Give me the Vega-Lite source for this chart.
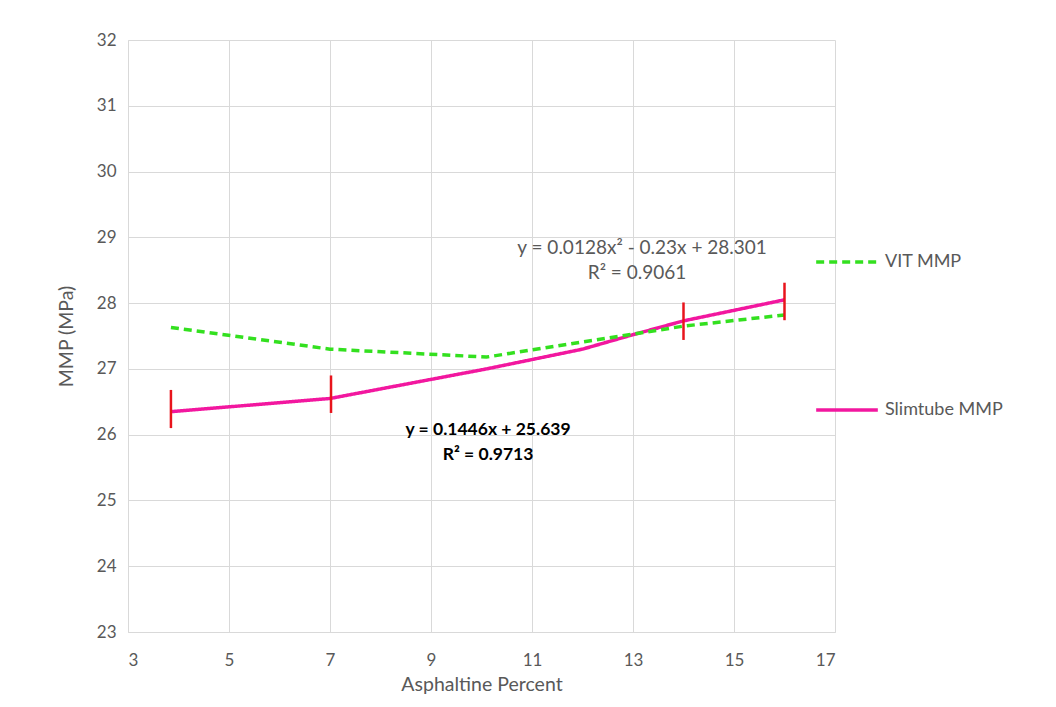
{
  "$schema": "https://vega.github.io/schema/vega-lite/v6.json",
  "width": 707,
  "height": 592,
  "autosize": {"type": "none"},
  "padding": {"left": 128, "top": 40, "right": 221, "bottom": 75},
  "background": "white",
  "config": {
    "font": "Lato",
    "view": {"stroke": null},
    "axis": {
      "gridColor": "#d9d9d9",
      "gridWidth": 1,
      "domainColor": "#d9d9d9",
      "ticks": false,
      "labelColor": "#595959",
      "labelFontSize": 17,
      "titleColor": "#595959",
      "titleFontSize": 19.5,
      "titleFontWeight": "normal"
    }
  },
  "datasets": {
    "lines": [
      {"series": "Slimtube MMP", "asph": 3.85, "mmp": 26.35},
      {"series": "Slimtube MMP", "asph": 7.0, "mmp": 26.55},
      {"series": "Slimtube MMP", "asph": 10.1, "mmp": 27.0},
      {"series": "Slimtube MMP", "asph": 12.0, "mmp": 27.3},
      {"series": "Slimtube MMP", "asph": 13.0, "mmp": 27.52},
      {"series": "Slimtube MMP", "asph": 14.0, "mmp": 27.73},
      {"series": "Slimtube MMP", "asph": 16.0, "mmp": 28.05},
      {"series": "VIT MMP", "asph": 3.85, "mmp": 27.63},
      {"series": "VIT MMP", "asph": 7.0, "mmp": 27.3},
      {"series": "VIT MMP", "asph": 10.1, "mmp": 27.18},
      {"series": "VIT MMP", "asph": 14.0, "mmp": 27.65},
      {"series": "VIT MMP", "asph": 16.0, "mmp": 27.82}
    ],
    "errs": [
      {"asph": 3.85, "low": 26.1, "high": 26.68},
      {"asph": 7.02, "low": 26.33, "high": 26.9},
      {"asph": 14.0, "low": 27.44, "high": 28.01},
      {"asph": 16.0, "low": 27.74, "high": 28.31}
    ]
  },
  "layer": [
    {
      "data": {"name": "lines"},
      "mark": {"type": "line", "strokeWidth": 3.5, "interpolate": "linear"},
      "encoding": {
        "x": {
          "field": "asph", "type": "quantitative",
          "scale": {"domain": [3, 17], "nice": false, "zero": false},
          "axis": {"values": [3, 5, 7, 9, 11, 13, 15, 17], "format": "d", "title": "Asphaltine Percent", "labelPadding": 20, "titlePadding": 7}
        },
        "y": {
          "field": "mmp", "type": "quantitative",
          "scale": {"domain": [23, 32], "nice": false, "zero": false},
          "axis": {"values": [23, 24, 25, 26, 27, 28, 29, 30, 31, 32], "format": "d", "title": "MMP (MPa)", "labelPadding": 12, "titlePadding": 20}
        },
        "color": {
          "field": "series", "type": "nominal",
          "scale": {"domain": ["VIT MMP", "Slimtube MMP"], "range": ["#33e01f", "#f2179f"]},
          "legend": {
            "title": null,
            "orient": "none",
            "legendX": 686,
            "legendY": 189,
            "symbolType": "stroke",
            "symbolSize": 3800,
            "symbolStrokeWidth": 3.5,
            "labelFontSize": 18,
            "labelColor": "#595959",
            "labelOffset": 5,
            "rowPadding": 106
          }
        },
        "strokeDash": {
          "field": "series", "type": "nominal",
          "scale": {"domain": ["VIT MMP", "Slimtube MMP"], "range": [[8, 5], [1, 0]]},
          "legend": {
            "title": null,
            "orient": "none",
            "legendX": 686,
            "legendY": 189,
            "symbolType": "stroke",
            "symbolSize": 3800,
            "symbolStrokeWidth": 3.5,
            "labelFontSize": 18,
            "labelColor": "#595959",
            "labelOffset": 5,
            "rowPadding": 106
          }
        },
        "order": {"field": "asph", "type": "quantitative"}
      }
    },
    {
      "data": {"name": "errs"},
      "mark": {"type": "rule", "color": "#e8141c", "strokeWidth": 2.5},
      "encoding": {
        "x": {"field": "asph", "type": "quantitative"},
        "y": {"field": "low", "type": "quantitative"},
        "y2": {"field": "high"}
      }
    },
    {
      "data": {"values": [{}]},
      "mark": {"type": "text", "fontSize": 19, "color": "#595959", "text": "y = 0.0128x² - 0.23x + 28.301"},
      "encoding": {"x": {"datum": 13.18}, "y": {"datum": 28.84}}
    },
    {
      "data": {"values": [{}]},
      "mark": {"type": "text", "fontSize": 19, "color": "#595959", "text": "R² = 0.9061"},
      "encoding": {"x": {"datum": 13.08}, "y": {"datum": 28.46}}
    },
    {
      "data": {"values": [{}]},
      "mark": {"type": "text", "fontSize": 17.5, "fontWeight": "bold", "color": "#000000", "text": "y = 0.1446x + 25.639"},
      "encoding": {"x": {"datum": 10.13}, "y": {"datum": 26.07}}
    },
    {
      "data": {"values": [{}]},
      "mark": {"type": "text", "fontSize": 17.5, "fontWeight": "bold", "color": "#000000", "text": "R² = 0.9713"},
      "encoding": {"x": {"datum": 10.13}, "y": {"datum": 25.69}}
    }
  ]
}
